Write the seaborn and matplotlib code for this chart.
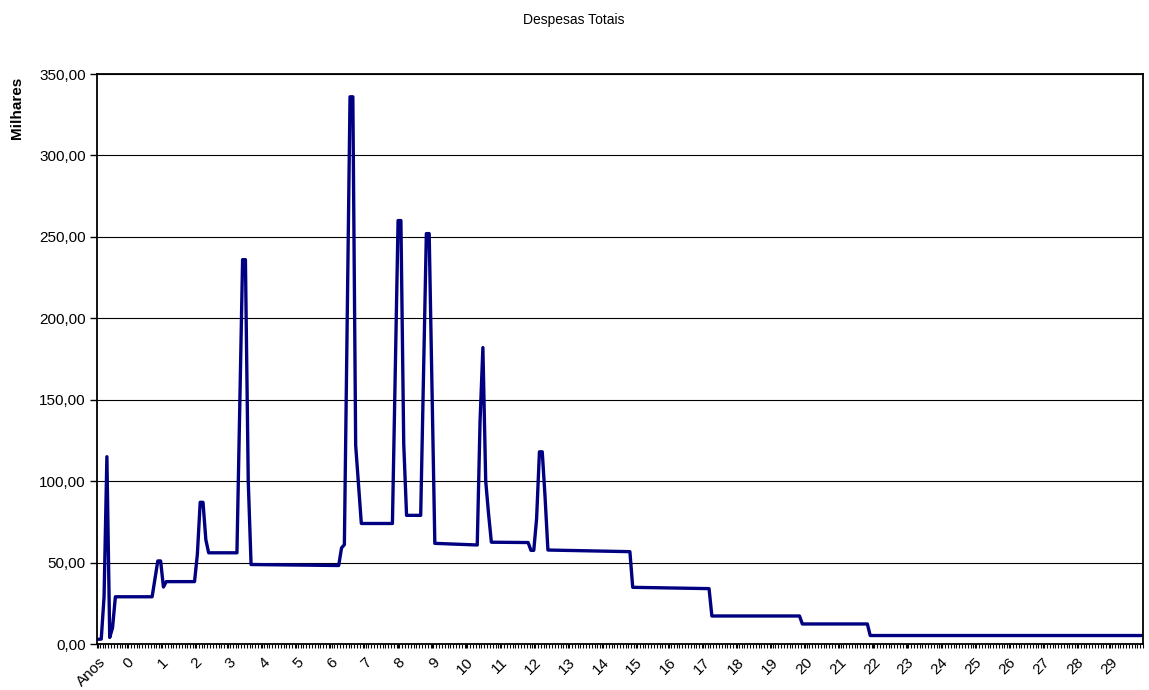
import matplotlib
matplotlib.use('Agg')
import matplotlib.pyplot as plt
from matplotlib.ticker import MultipleLocator, FuncFormatter
import numpy as np
import pandas as pd
import seaborn as sns

# month index (category position on the axis) where the line changes
months = [0, 1, 2, 3, 4, 5, 6, 19, 20, 21, 22, 23, 24, 34, 35, 36, 37, 38, 39,
          49, 51, 52, 53, 54, 85, 86, 87, 89, 90, 91, 93, 104, 106, 107, 108, 109,
          114, 116, 117, 119, 134, 135, 136, 137, 138, 139, 152, 153, 154, 155,
          156, 157, 158, 159, 188, 189, 216, 217, 248, 249, 272, 273, 369]

# total expenses in thousands
despesas = [2.9, 3.0, 29, 115, 4, 10, 29, 29, 40, 51, 51, 35, 38.3, 38.3, 55, 87, 87, 64, 56,
            56, 236, 236, 100, 48.8, 48.2, 59, 61, 336, 336, 122, 74, 74, 260, 260, 123, 79,
            79, 252, 252, 61.8, 60.8, 137, 182, 100, 80, 62.5, 62.3, 57.5, 57.5, 77,
            118, 118, 90, 57.7, 56.7, 34.8, 34.0, 17.2, 17.2, 12.3, 12.3, 5.2, 5.2]

year_labels = ['Anos'] + [str(i) for i in range(30)]
label_months = [0] + [10 + 12 * i for i in range(30)]
n_months = 370


def main():
    sns.set_style('white')
    plt.rcParams['font.family'] = ['Liberation Sans', 'DejaVu Sans']
    plt.rcParams['text.color'] = 'black'
    plt.rcParams['xtick.color'] = 'black'
    plt.rcParams['ytick.color'] = 'black'

    fig = plt.figure(figsize=(11.49, 6.90), dpi=100)
    ax = fig.add_axes([97 / 1149, 46 / 690, 1046 / 1149, 570 / 690])

    df = pd.DataFrame({'mes': months, 'valor': despesas})
    sns.lineplot(data=df, x='mes', y='valor', ax=ax, color='#000080',
                 linewidth=2.4, estimator=None)

    ax.set_xlim(-0.5, n_months - 0.5)
    ax.set_ylim(0, 350)
    ax.yaxis.set_major_locator(MultipleLocator(50))
    ax.yaxis.set_major_formatter(FuncFormatter(lambda v, p: f'{v:.2f}'.replace('.', ',')))
    ax.grid(axis='y', color='black', linewidth=0.8)
    ax.grid(axis='x', visible=False)
    ax.set_axisbelow(True)
    for s in ax.spines.values():
        s.set_color('black')
        s.set_linewidth(1.3)

    ax.set_xticks(label_months)
    ax.set_xticklabels(year_labels, rotation=45, ha='right', rotation_mode='anchor')
    ax.set_xticks(np.arange(-0.5, n_months, 1), minor=True)
    ax.tick_params(axis='x', which='both', bottom=True, direction='out',
                   length=3, width=0.8, labelsize=11, pad=5, labelcolor='black')
    ax.tick_params(axis='y', left=True, direction='out', length=5, width=1,
                   labelsize=11, pad=3, labelcolor='black')
    ax.set_xlabel('')
    ax.set_ylabel('')

    fig.text(574 / 1149, 1 - 20 / 690, 'Despesas Totais', ha='center', va='center',
             fontsize=10, color='black')
    fig.text(17 / 1149, 1 - 108 / 690, 'Milhares', rotation=90, fontweight='bold',
             ha='center', va='center', fontsize=11, color='black')

    fig.savefig('out.png', dpi=100)
    plt.close()


if __name__ == "__main__":
    main()
